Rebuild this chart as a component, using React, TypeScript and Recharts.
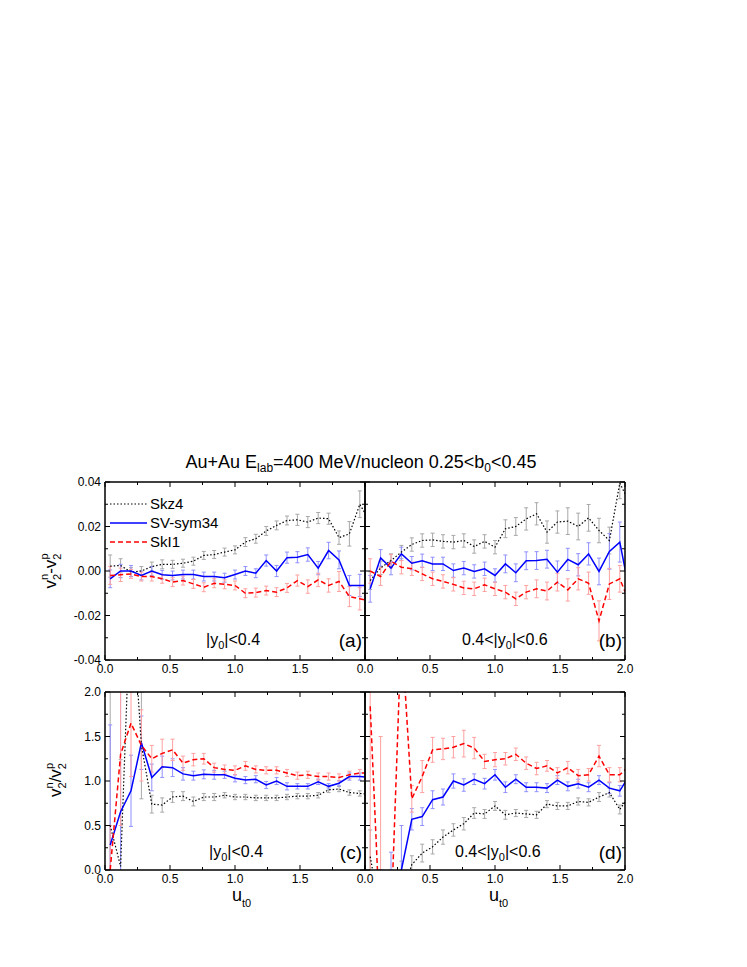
import React from "react";
import { LineChart, Line, XAxis, YAxis, ErrorBar, ReferenceLine } from "recharts";

// bin centres of u_t0
const ut0 = [0.04, 0.12, 0.2, 0.28, 0.36, 0.44, 0.52, 0.6, 0.68, 0.76, 0.84, 0.92, 1.0, 1.08, 1.16, 1.24, 1.32, 1.4, 1.48, 1.56, 1.64, 1.72, 1.8, 1.88, 1.96, 2.04];

const xTicks = [0, 0.25, 0.5, 0.75, 1.0, 1.25, 1.5, 1.75, 2.0];
const diffTicks = [-0.04, -0.03, -0.02, -0.01, 0, 0.01, 0.02, 0.03, 0.04];
const ratioTicks = [0, 0.25, 0.5, 0.75, 1.0, 1.25, 1.5, 1.75, 2.0];
const leftXLabels = [0, 0.5, 1.0, 1.5];
const rightXLabels = [0, 0.5, 1.0, 1.5, 2.0];

// (a) v2n - v2p, |y0|<0.4
const aSkz4 = [0.0022, 0.0025, -0.0005, 0.0, 0.002, 0.003, 0.003, 0.0035, 0.0044, 0.007, 0.0074, 0.0085, 0.0095, 0.013, 0.0145, 0.018, 0.0205, 0.0227, 0.023, 0.022, 0.0238, 0.0235, 0.015, 0.0167, 0.03, 0.022];
const aSkz4Err = [0.005, 0.003, 0.002, 0.002, 0.002, 0.002, 0.0018, 0.0018, 0.0018, 0.0018, 0.0018, 0.0018, 0.0018, 0.002, 0.002, 0.002, 0.002, 0.002, 0.0025, 0.0025, 0.0025, 0.0025, 0.003, 0.0055, 0.006, 0.006];
const aSv = [-0.0035, 0.0, 0.0, -0.002, 0.0, -0.0017, -0.002, -0.0016, -0.0016, -0.0025, -0.0025, -0.003, -0.0016, 0.0, -0.001, 0.0047, 0.0, 0.006, 0.0062, 0.0074, 0.0013, 0.0092, 0.005, -0.0065, -0.0065, -0.0065];
const aSvErr = [0.004, 0.003, 0.0025, 0.002, 0.002, 0.002, 0.002, 0.002, 0.002, 0.002, 0.002, 0.002, 0.002, 0.002, 0.002, 0.0025, 0.0025, 0.0025, 0.0025, 0.003, 0.003, 0.0037, 0.004, 0.0045, 0.005, 0.005];
const aSki = [-0.002, -0.0017, -0.0013, -0.0025, -0.0025, -0.0035, -0.005, -0.0043, -0.0058, -0.0073, -0.0055, -0.006, -0.0065, -0.01, -0.0097, -0.0088, -0.0095, -0.0076, -0.0043, -0.007, -0.004, -0.0065, -0.0047, -0.0115, -0.0125, -0.0135];
const aSkiErr = [0.004, 0.003, 0.002, 0.002, 0.002, 0.002, 0.002, 0.002, 0.002, 0.002, 0.002, 0.002, 0.002, 0.002, 0.002, 0.002, 0.002, 0.002, 0.0025, 0.003, 0.003, 0.003, 0.0045, 0.0045, 0.005, 0.005];

// (b) v2n - v2p, 0.4<|y0|<0.6
const bSkz4 = [-0.0043, 0.0014, 0.0047, 0.0085, 0.0119, 0.0137, 0.014, 0.0133, 0.013, 0.0137, 0.011, 0.0133, 0.0107, 0.019, 0.02, 0.0234, 0.0257, 0.0175, 0.022, 0.0224, 0.02, 0.0239, 0.0182, 0.0137, 0.0395, 0.03];
const bSkz4Err = [0.004, 0.003, 0.003, 0.003, 0.003, 0.003, 0.003, 0.003, 0.003, 0.003, 0.003, 0.003, 0.003, 0.004, 0.004, 0.005, 0.005, 0.005, 0.005, 0.006, 0.006, 0.006, 0.0055, 0.006, 0.007, 0.007];
const bSv = [-0.008, 0.0059, 0.0013, 0.0077, 0.0035, 0.0046, 0.0032, 0.0032, 0.0002, 0.0013, -0.0002, 0.001, -0.002, 0.0032, -0.0008, 0.0046, 0.0047, 0.0053, -0.0005, 0.0052, 0.0028, 0.0077, -0.0002, 0.0088, 0.013, -0.011];
const bSvErr = [0.006, 0.0037, 0.003, 0.003, 0.003, 0.003, 0.003, 0.003, 0.003, 0.003, 0.003, 0.003, 0.003, 0.004, 0.004, 0.004, 0.004, 0.004, 0.005, 0.005, 0.005, 0.005, 0.006, 0.008, 0.009, 0.009];
const bSki = [0.0, -0.0025, 0.0044, 0.0017, 0.001, -0.0013, -0.0035, -0.0047, -0.006, -0.0076, -0.008, -0.0062, -0.008, -0.0095, -0.0125, -0.0095, -0.008, -0.009, -0.005, -0.0085, -0.0035, -0.0055, -0.0224, -0.0058, -0.0035, -0.015];
const bSkiErr = [0.0055, 0.004, 0.003, 0.003, 0.003, 0.003, 0.003, 0.003, 0.003, 0.003, 0.003, 0.003, 0.003, 0.003, 0.003, 0.003, 0.004, 0.004, 0.004, 0.005, 0.005, 0.005, 0.009, 0.007, 0.006, 0.006];

// (c) v2n / v2p, |y0|<0.4
const cSkz4 = [0.5, 0.04, 3.2, 1.4, 0.74, 0.73, 0.82, 0.83, 0.77, 0.82, 0.82, 0.84, 0.82, 0.82, 0.81, 0.81, 0.81, 0.82, 0.83, 0.83, 0.84, 0.9, 0.91, 0.87, 0.86, 0.85];
const cSkz4Err = [1.6, 1.2, 1.2, 0.6, 0.1, 0.08, 0.06, 0.05, 0.05, 0.04, 0.04, 0.03, 0.03, 0.03, 0.03, 0.03, 0.03, 0.03, 0.03, 0.03, 0.03, 0.03, 0.03, 0.03, 0.03, 0.03];
const cSv = [0.28, 0.655, 0.89, 1.43, 1.04, 1.16, 1.15, 1.08, 1.06, 1.075, 1.07, 1.07, 1.03, 1.01, 1.02, 0.955, 1.0, 0.94, 0.94, 0.94, 0.99, 0.94, 0.975, 1.05, 1.05, 1.04];
const cSvErr = [1.35, 1.6, 0.4, 0.3, 0.15, 0.12, 0.1, 0.07, 0.05, 0.05, 0.05, 0.04, 0.04, 0.04, 0.04, 0.04, 0.04, 0.04, 0.03, 0.03, 0.03, 0.03, 0.03, 0.04, 0.04, 0.04];
const cSki = [0.0, 1.3, 1.65, 1.4, 1.25, 1.31, 1.35, 1.2, 1.24, 1.25, 1.15, 1.13, 1.12, 1.17, 1.13, 1.12, 1.12, 1.09, 1.06, 1.07, 1.05, 1.05, 1.04, 1.07, 1.09, 1.09];
const cSkiErr = [0.5, 0.8, 0.6, 0.4, 0.15, 0.16, 0.12, 0.08, 0.07, 0.06, 0.05, 0.05, 0.05, 0.05, 0.04, 0.04, 0.04, 0.04, 0.04, 0.04, 0.04, 0.04, 0.04, 0.04, 0.04, 0.04];

// (d) v2n / v2p, 0.4<|y0|<0.6
const dSkz4 = [0.15, -0.5, -0.5, -0.3, 0.06, 0.19, 0.26, 0.37, 0.45, 0.52, 0.64, 0.63, 0.72, 0.62, 0.64, 0.63, 0.62, 0.74, 0.72, 0.72, 0.77, 0.76, 0.82, 0.87, 0.68, 0.85];
const dSkz4Err = [0.3, 0.5, 0.5, 0.4, 0.1, 0.1, 0.08, 0.08, 0.07, 0.07, 0.06, 0.05, 0.05, 0.05, 0.04, 0.04, 0.04, 0.04, 0.04, 0.04, 0.04, 0.04, 0.05, 0.05, 0.05, 0.05];
const dSv = [-1.5, -1.0, -0.8, 0.0, 0.57, 0.6, 0.79, 0.82, 1.0, 0.955, 1.02, 0.97, 1.07, 0.93, 1.02, 0.93, 0.93, 0.92, 1.01, 0.94, 0.97, 0.93, 1.01, 0.92, 0.89, 1.08];
const dSvErr = [1, 1, 1, 0.5, 0.12, 0.1, 0.1, 0.09, 0.08, 0.07, 0.06, 0.06, 0.06, 0.06, 0.05, 0.05, 0.05, 0.05, 0.05, 0.05, 0.05, 0.05, 0.05, 0.06, 0.06, 0.06];
const dSki = [1.84, -0.8, -0.6, 2.7, 0.8, 1.05, 1.35, 1.36, 1.38, 1.42, 1.37, 1.22, 1.24, 1.25, 1.3, 1.2, 1.14, 1.17, 1.09, 1.15, 1.06, 1.07, 1.28, 1.07, 1.07, 1.18];
const dSkiErr = [2, 2.3, 0.5, 0.5, 0.15, 0.18, 0.14, 0.12, 0.12, 0.15, 0.12, 0.08, 0.08, 0.07, 0.07, 0.07, 0.07, 0.06, 0.06, 0.07, 0.07, 0.07, 0.12, 0.08, 0.08, 0.08];

const PW = 260;
const PH = 178;
const FONT = "'Liberation Sans', Arial, sans-serif";

function makeRows(skz4: number[], skz4Err: number[], sv: number[], svErr: number[], ski: number[], skiErr: number[]) {
  return ut0.map((u, i) => ({
    u,
    skz4: skz4[i],
    skz4Err: skz4Err[i],
    sv: sv[i],
    svErr: svErr[i],
    ski: ski[i],
    skiErr: skiErr[i],
  }));
}

const isHalf = (v: number) => Math.abs(v * 2 - Math.round(v * 2)) < 1e-6;
const isFiftieth = (v: number) => Math.abs(v * 50 - Math.round(v * 50)) < 1e-6;

function XTick(props: any) {
  const { x, y, payload, labels } = props;
  const v = payload.value;
  const major = isHalf(v);
  const len = major ? 5 : 3;
  const show = major && labels.some((l: number) => Math.abs(l - v) < 1e-6);
  return (
    <g>
      <line x1={x} x2={x} y1={y} y2={y - len} stroke="#000" strokeWidth={1} />
      <line x1={x} x2={x} y1={y - PH} y2={y - PH + len} stroke="#000" strokeWidth={1} />
      {show && (
        <text x={x} y={y + 13} textAnchor="middle" fontSize={12} fill="#000">
          {v.toFixed(1)}
        </text>
      )}
    </g>
  );
}

function YTick(props: any) {
  const { x, y, payload, showLabel, diff } = props;
  const v = payload.value;
  const major = diff ? isFiftieth(v) : isHalf(v);
  const len = major ? 5 : 3;
  return (
    <g>
      <line x1={x} x2={x + len} y1={y} y2={y} stroke="#000" strokeWidth={1} />
      <line x1={x + PW} x2={x + PW - len} y1={y} y2={y} stroke="#000" strokeWidth={1} />
      {major && showLabel && (
        <text x={x - 4} y={y + 4} textAnchor="end" fontSize={12} fill="#000">
          {diff ? v.toFixed(2) : v.toFixed(1)}
        </text>
      )}
    </g>
  );
}

interface PanelProps {
  left: number;
  top: number;
  rows: any[];
  diff: boolean;
  showY: boolean;
  xLabels: number[];
}

const series = [
  { key: "skz4", err: "skz4Err", color: "#000", errColor: "#a8a8a8", dash: "1.5 2", width: 1.2 },
  { key: "sv", err: "svErr", color: "#0000ff", errColor: "#9090ff", dash: undefined, width: 1.5 },
  { key: "ski", err: "skiErr", color: "#ff0000", errColor: "#ffa0a0", dash: "5 3", width: 1.5 },
];

function Panel({ left, top, rows, diff, showY, xLabels }: PanelProps) {
  const domain = diff ? [-0.04, 0.04] : [0, 2];
  const axisLine = { stroke: "#000", strokeWidth: 1.5 };
  const MT = 10;
  const MR = 16;
  return (
    <>
      {/* error bars, clipped to the plot box */}
      <div style={{ position: "absolute", left, top, width: PW, height: PH, overflow: "hidden" }}>
        <LineChart width={PW} height={PH} data={rows} margin={{ top: 0, right: 0, bottom: 0, left: 0 }}>
          <XAxis dataKey="u" type="number" domain={[0, 2]} allowDataOverflow hide />
          <YAxis type="number" domain={domain} allowDataOverflow hide />
          {series.map((s) => (
            <Line key={s.key} dataKey={s.key} type="linear" stroke="none" dot={false} isAnimationActive={false}>
              <ErrorBar dataKey={s.err} width={2} stroke={s.errColor} strokeWidth={1} direction="y" />
            </Line>
          ))}
        </LineChart>
      </div>
      {/* curves, frame and ticks */}
      <div style={{ position: "absolute", left: left - 50, top: top - MT }}>
        <LineChart width={50 + PW + MR} height={MT + PH + 24} data={rows} margin={{ top: MT, right: MR, bottom: 0, left: 0 }}>
          <XAxis
            dataKey="u"
            type="number"
            domain={[0, 2]}
            ticks={xTicks}
            interval={0}
            allowDataOverflow
            height={24}
            tickSize={0}
            tickMargin={0}
            tickLine={false}
            axisLine={axisLine}
            tick={(p: any) => <XTick {...p} labels={xLabels} />}
          />
          <YAxis
            type="number"
            domain={domain}
            ticks={diff ? diffTicks : ratioTicks}
            interval={0}
            allowDataOverflow
            width={50}
            tickSize={0}
            tickMargin={0}
            tickLine={false}
            axisLine={axisLine}
            tick={(p: any) => <YTick {...p} showLabel={showY} diff={diff} />}
          />
          {series.map((s) => (
            <Line
              key={s.key}
              dataKey={s.key}
              type="linear"
              stroke={s.color}
              strokeWidth={s.width}
              strokeDasharray={s.dash}
              dot={false}
              isAnimationActive={false}
            />
          ))}
          <ReferenceLine x={2} stroke="#000" strokeWidth={1.5} />
          <ReferenceLine y={domain[1]} stroke="#000" strokeWidth={1.5} />
        </LineChart>
      </div>
    </>
  );
}

const rowsA = makeRows(aSkz4, aSkz4Err, aSv, aSvErr, aSki, aSkiErr);
const rowsB = makeRows(bSkz4, bSkz4Err, bSv, bSvErr, bSki, bSkiErr);
const rowsC = makeRows(cSkz4, cSkz4Err, cSv, cSvErr, cSki, cSkiErr);
const rowsD = makeRows(dSkz4, dSkz4Err, dSv, dSvErr, dSki, dSkiErr);

const legendNames = ["Skz4", "SV-sym34", "SkI1"];

export default function App() {
  return (
    <div style={{ position: "absolute", left: 0, top: 0, width: 747, height: 967, background: "#fff", fontFamily: FONT }}>
      <Panel left={105} top={482} rows={rowsA} diff showY xLabels={leftXLabels} />
      <Panel left={365} top={482} rows={rowsB} diff showY={false} xLabels={rightXLabels} />
      <Panel left={105} top={692} rows={rowsC} diff={false} showY xLabels={leftXLabels} />
      <Panel left={365} top={692} rows={rowsD} diff={false} showY={false} xLabels={rightXLabels} />

      <svg width={747} height={967} style={{ position: "absolute", left: 0, top: 0, pointerEvents: "none" }} fontFamily={FONT}>
        <text x={361} y={468} textAnchor="middle" fontSize={18}>
          Au+Au E<tspan fontSize={12} dy={4}>lab</tspan>
          <tspan dy={-4}>=400 MeV/nucleon 0.25&lt;b</tspan>
          <tspan fontSize={12} dy={4}>0</tspan>
          <tspan dy={-4}>&lt;0.45</tspan>
        </text>

        {series.map((s, i) => (
          <g key={s.key}>
            <line x1={110} x2={147} y1={504 + i * 19} y2={504 + i * 19} stroke={s.color} strokeWidth={s.width} strokeDasharray={s.dash} />
            <text x={150} y={509 + i * 19} fontSize={15}>
              {legendNames[i]}
            </text>
          </g>
        ))}

        <text transform="translate(56,571) rotate(-90)" textAnchor="middle" fontSize={17}>
          v<tspan fontSize={11} dy={5}>2</tspan>
          <tspan fontSize={11} dx={-6} dy={-13}>n</tspan>
          <tspan dy={8}>-v</tspan>
          <tspan fontSize={11} dy={5}>2</tspan>
          <tspan fontSize={11} dx={-6} dy={-13}>p</tspan>
        </text>
        <text transform="translate(61,780) rotate(-90)" textAnchor="middle" fontSize={17}>
          v<tspan fontSize={11} dy={5}>2</tspan>
          <tspan fontSize={11} dx={-6} dy={-13}>n</tspan>
          <tspan dy={8}>/v</tspan>
          <tspan fontSize={11} dy={5}>2</tspan>
          <tspan fontSize={11} dx={-6} dy={-13}>p</tspan>
        </text>

        <text x={206} y={645} fontSize={16}>
          |y<tspan fontSize={11} dy={4}>0</tspan>
          <tspan dy={-4}>|&lt;0.4</tspan>
        </text>
        <text x={462} y={645} fontSize={16}>
          0.4&lt;|y<tspan fontSize={11} dy={4}>0</tspan>
          <tspan dy={-4}>|&lt;0.6</tspan>
        </text>
        <text x={209} y={857} fontSize={16}>
          |y<tspan fontSize={11} dy={4}>0</tspan>
          <tspan dy={-4}>|&lt;0.4</tspan>
        </text>
        <text x={455} y={857} fontSize={16}>
          0.4&lt;|y<tspan fontSize={11} dy={4}>0</tspan>
          <tspan dy={-4}>|&lt;0.6</tspan>
        </text>

        <text x={362} y={647} textAnchor="end" fontSize={19}>(a)</text>
        <text x={622} y={647} textAnchor="end" fontSize={19}>(b)</text>
        <text x={362} y={859} textAnchor="end" fontSize={19}>(c)</text>
        <text x={622} y={859} textAnchor="end" fontSize={19}>(d)</text>

        <text x={232} y={901} fontSize={18}>
          u<tspan fontSize={11} dy={6}>t0</tspan>
        </text>
        <text x={489} y={901} fontSize={18}>
          u<tspan fontSize={11} dy={6}>t0</tspan>
        </text>
      </svg>
    </div>
  );
}
